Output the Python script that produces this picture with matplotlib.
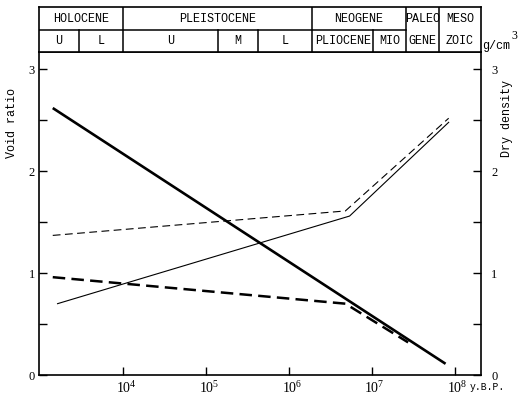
import numpy as np
import matplotlib
matplotlib.use('Agg')
import matplotlib.pyplot as plt
import matplotlib.transforms as mtransforms

plt.rcParams['font.family'] = ['Liberation Mono', 'DejaVu Sans Mono']
plt.rcParams['mathtext.fontset'] = 'custom'
plt.rcParams['mathtext.rm'] = 'Liberation Serif'
plt.rcParams['mathtext.it'] = 'Liberation Serif'

# data: years B.P. against value
thick_solid_x = [1400, 7.8e7]
thick_solid_y = [2.62, 0.11]

thin_solid_x = [1600, 5.4e6, 8.5e7]
thin_solid_y = [0.70, 1.56, 2.48]

thin_dash_x = [1400, 4.8e6, 8.5e7]
thin_dash_y = [1.37, 1.61, 2.52]

thick_dash_x = [1400, 4.8e6, 2.75e7]
thick_dash_y = [0.96, 0.70, 0.32]

x_ticks = [1e4, 1e5, 1e6, 1e7, 1e8]
x_ticklabels = ['$10^{4}$', '$10^{5}$', '$10^{6}$', '$10^{7}$', '$10^{8}$']
y_ticks = [0, 1, 2, 3]

# geologic time table (boundaries in years)
upper_bounds = [1e4, 10**6.28, 10**7.41, 10**7.81]
lower_bounds = [10**3.46, 10**5.14, 10**5.62, 10**7.02]
upper_labels = [('HOLOCENE', None, 1e4), ('PLEISTOCENE', 1e4, 10**6.28),
                ('NEOGENE', 10**6.28, 10**7.41), ('PALEO', 10**7.41, 10**7.81),
                ('MESO', 10**7.81, None)]
lower_labels = [('U', None, 10**3.46), ('L', 10**3.46, 1e4), ('U', 1e4, 10**5.14),
                ('M', 10**5.14, 10**5.62), ('L', 10**5.62, 10**6.28),
                ('PLIOCENE', 10**6.28, 10**7.02), ('MIO', 10**7.02, 10**7.41),
                ('GENE', 10**7.41, 10**7.81), ('ZOIC', 10**7.81, None)]

xmin, xmax = 10**2.98, 10**8.32
W, H = 518, 397

fig = plt.figure(figsize=(W / 100, H / 100), dpi=100)
ax = fig.add_axes([39 / W, 22 / H, 442 / W, 323 / H])
axh = fig.add_axes([39 / W, (H - 52) / H, 442 / W, 45 / H])

ax.plot(thick_solid_x, thick_solid_y, color='black', lw=1.9, solid_capstyle='butt')
ax.plot(thin_solid_x, thin_solid_y, color='black', lw=0.8)
ax.plot(thin_dash_x, thin_dash_y, color='black', lw=0.8, dashes=(7, 4))
ax.plot(thick_dash_x, thick_dash_y, color='black', lw=1.8, dashes=(5, 2.5))

ax.set_xscale('log')
ax.set_xlim(xmin, xmax)
ax.set_ylim(0, 3.17)
ax.set_xticks(x_ticks)
ax.set_xticklabels(x_ticklabels)
ax.xaxis.set_minor_locator(matplotlib.ticker.NullLocator())
ax.set_yticks(y_ticks)
ax.set_yticks([0.5, 1.5, 2.5], minor=True)
ax.tick_params(axis='both', which='both', direction='in', length=6, width=1,
               labelsize=9)
ax.tick_params(axis='y', which='both', left=True, right=True,
               labelleft=True, labelright=True, pad=3)
ax.tick_params(axis='x', pad=4)
for lab in ax.get_yticklabels():
    lab.set_fontfamily('Liberation Serif')
for lab in ax.get_xticklabels():
    lab.set_fontsize(10)
    lab.set_transform(lab.get_transform() + mtransforms.ScaledTranslation(3 / 100, 0, fig.dpi_scale_trans))
for sp in ax.spines.values():
    sp.set_linewidth(1.2)
# push right labels a bit further out
for t in ax.yaxis.get_major_ticks():
    t.label2.set_fontfamily('Liberation Serif')
    t.label2.set_transform(t.label2.get_transform() + mtransforms.ScaledTranslation(6 / 100, 0, fig.dpi_scale_trans))

ax.text(-0.061, 0.78, 'Void ratio', transform=ax.transAxes, rotation=90,
        ha='center', va='center', fontsize=8.5)
ax.text(1.059, 0.795, 'Dry density', transform=ax.transAxes, rotation=90,
        ha='center', va='center', fontsize=8.5)
ax.text(1.003, 1.02, 'g/cm', transform=ax.transAxes, ha='left',
        va='center', fontsize=8.5)
ax.text(1.068, 1.05, '3', transform=ax.transAxes, ha='left',
        va='center', fontsize=8.5, family='Liberation Serif')
ax.text(0.975, -0.037, 'y.B.P.', transform=ax.transAxes, ha='left',
        va='center', fontsize=7)

# header table
axh.set_xscale('log')
axh.set_xlim(xmin, xmax)
axh.set_ylim(0, 2)
axh.set_xticks([])
axh.set_yticks([])
axh.xaxis.set_minor_locator(matplotlib.ticker.NullLocator())
for sp in axh.spines.values():
    sp.set_linewidth(1.2)
axh.plot([xmin, upper_bounds[2]], [1, 1], color='black', lw=1.1)
for b in upper_bounds:
    axh.plot([b, b], [0, 2], color='black', lw=1.1)
for b in lower_bounds:
    axh.plot([b, b], [0, 1], color='black', lw=1.1)


def center(a, b):
    a = xmin if a is None else a
    b = xmax if b is None else b
    return np.sqrt(a * b)


for text, a, b in upper_labels:
    axh.text(center(a, b), 1.45, text, ha='center', va='center', fontsize=8.5)
for text, a, b in lower_labels:
    axh.text(center(a, b), 0.48, text, ha='center', va='center', fontsize=8.5)

fig.savefig('out.png', dpi=100)
